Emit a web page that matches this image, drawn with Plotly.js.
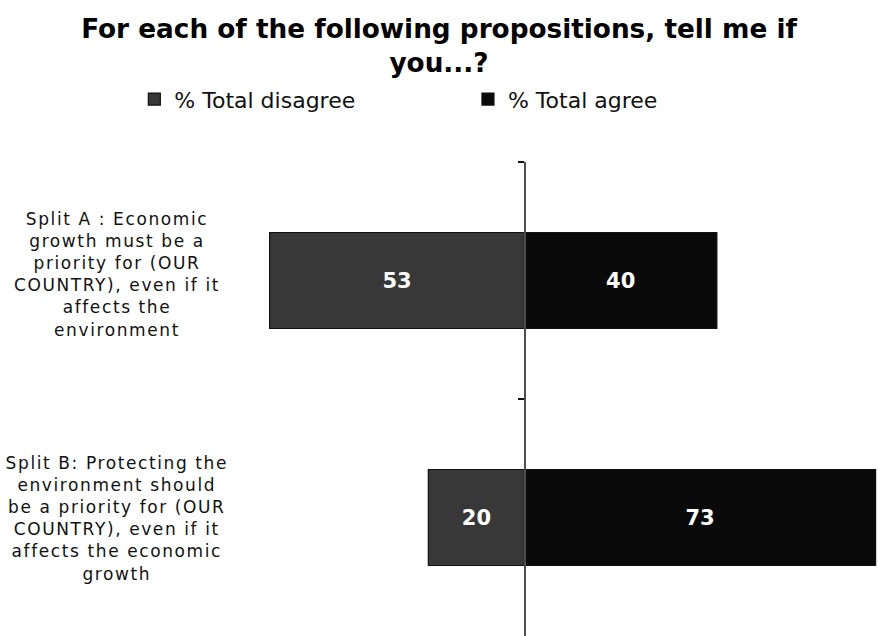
<!DOCTYPE html>
<html>
<head>
<meta charset="utf-8">
<script src="https://cdn.plot.ly/plotly-3.0.1.min.js"></script>
<style>
html,body{margin:0;padding:0;background:#fff;}
#chart{width:878px;height:636px;}
#chart .annotation-text{letter-spacing:1.6px;}
</style>
</head>
<body>
<div id="chart"></div>
<script>
// ---- data ----
const categories = [
  "Split A : Economic<br>growth must be a<br>priority for (OUR<br>COUNTRY), even if it<br>affects the<br>environment",
  "Split B: Protecting the<br>environment should<br>be a priority for (OUR<br>COUNTRY), even if it<br>affects the economic<br>growth"
];
const disagreeValues = [53, 20];
const agreeValues = [40, 73];
const seriesNames = ["% Total disagree", "% Total agree"];
const titleText = "For each of the following propositions, tell me if<br>you...?";

// ---- layout helpers ----
const xRange = [-57.7, 73.5];
const zeroPos = (0 - xRange[0]) / (xRange[1] - xRange[0]);

const traces = [
  {
    type: "bar", orientation: "h", name: seriesNames[0], legend: "legend",
    y: categories, x: disagreeValues.map(v => -v),
    text: disagreeValues.map(String), textposition: "inside",
    insidetextanchor: "middle",
    textfont: {family: "DejaVu Sans", size: 21, color: "#ffffff", weight: "bold"},
    marker: {color: "#383838", line: {color: "#111111", width: 1.2}},
    width: 0.405, hoverinfo: "skip"
  },
  {
    type: "bar", orientation: "h", name: seriesNames[1], legend: "legend2",
    y: categories, x: agreeValues,
    text: agreeValues.map(String), textposition: "inside",
    insidetextanchor: "middle",
    textfont: {family: "DejaVu Sans", size: 21, color: "#ffffff", weight: "bold"},
    marker: {color: "#0a0a0a", line: {color: "#111111", width: 1.2}},
    width: 0.405, hoverinfo: "skip"
  }
];

const annotations = categories.map((c, i) => ({
  xref: "paper", yref: "y", x: -0.206, y: c, xanchor: "center", yanchor: "middle",
  yshift: i === 0 ? 6 : -1,
  text: c, showarrow: false, align: "center",
  font: {family: "DejaVu Sans", size: 17, color: "#111111"}
}));

const legendBase = {
  orientation: "h", xref: "container", yref: "container",
  xanchor: "left", y: 0.877, yanchor: "top",
  font: {family: "DejaVu Sans", size: 22, color: "#111111"},
  itemclick: false, itemdoubleclick: false, bgcolor: "rgba(0,0,0,0)"
};

const layout = {
  width: 878, height: 636,
  paper_bgcolor: "#ffffff", plot_bgcolor: "rgba(0,0,0,0)",
  margin: {l: 247, r: 0, t: 162, b: 0},
  barmode: "relative",
  title: {
    text: titleText, x: 0.5, xref: "container", xanchor: "center",
    y: 0.941, yref: "container", yanchor: "top",
    font: {family: "DejaVu Sans", size: 26.3, color: "#000000", weight: "bold"}
  },
  showlegend: true,
  legend: Object.assign({}, legendBase, {x: 0.153}),
  legend2: Object.assign({}, legendBase, {x: 0.533}),
  xaxis: {
    range: xRange, showgrid: false, zeroline: false, showticklabels: false,
    showline: false, ticks: "", fixedrange: true
  },
  yaxis: {
    type: "category", autorange: "reversed", anchor: "free", position: zeroPos,
    showline: true, linecolor: "#4d4d4d", linewidth: 2,
    ticks: "outside", tickson: "boundaries", ticklen: 6, tickcolor: "#111111", tickwidth: 2,
    showticklabels: false, showgrid: false, zeroline: false, fixedrange: true
  },
  annotations: annotations
};

Plotly.newPlot("chart", traces, layout, {displayModeBar: false, staticPlot: true});
</script>
</body>
</html>
